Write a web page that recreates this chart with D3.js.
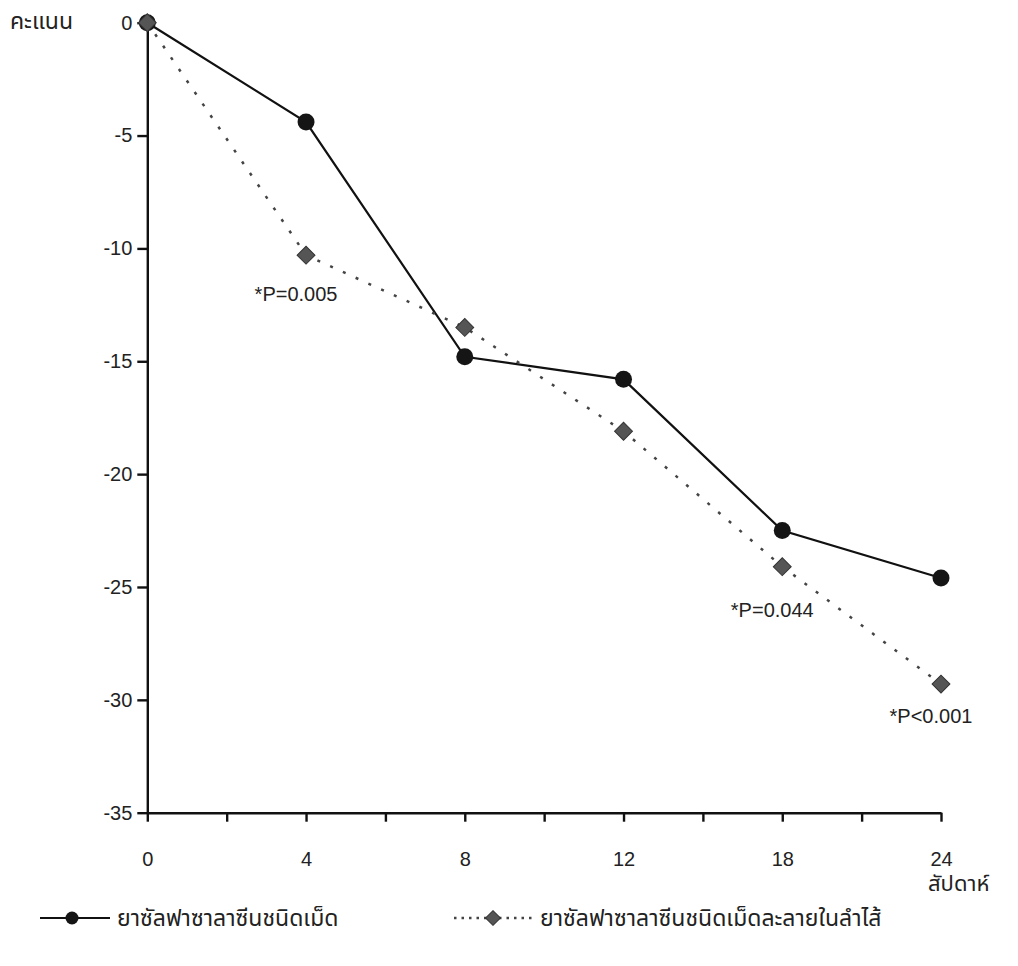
<!DOCTYPE html>
<meta charset="utf-8">
<script src="https://d3js.org/d3.v7.min.js"></script>
<style>
  body { margin: 0; background: #fff; }
  text { font-family: "Liberation Sans", Arial, sans-serif; fill: #222; }
  .thai { font-family: "Noto Sans Thai", "Noto Sans Thai Looped", "Noto Sans", "DejaVu Sans", sans-serif; }
</style>
<div id="chart"></div>
<script>
// weeks (x categories)
var weeks = [0, 4, 8, 12, 18, 24];
// change in score, tablet
var tablet = [0, -4.4, -14.8, -15.8, -22.5, -24.6];
// change in score, enteric coated tablet
var entericTablet = [0, -10.3, -13.5, -18.1, -24.1, -29.3];
var yTicks = [0, -5, -10, -15, -20, -25, -30, -35];
var seriesNames = ["ยาซัลฟาซาลาซีนชนิดเม็ด", "ยาซัลฟาซาลาซีนชนิดเม็ดละลายในลำไส้"];
var noteIndex = [1, 4, 5];
var noteText = ["*P=0.005", "*P=0.044", "*P<0.001"];

var W = 1018, H = 966;
var svg = d3.select("#chart").append("svg")
    .attr("width", W).attr("height", H);
svg.append("rect").attr("width", W).attr("height", H).attr("fill", "#fff");

// scales
var x = d3.scaleLinear().domain([0, weeks.length - 1]).range([147.3, 941]);
var y = d3.scaleLinear().domain([0, -35]).range([22.7, 812.7]);

// y axis
var yAxis = svg.append("g")
    .attr("transform", "translate(" + x(0) + ",0)")
    .call(d3.axisLeft(y).tickValues(yTicks).tickSize(10).tickSizeOuter(0).tickPadding(5)
      .tickFormat(function(d) { return String(d); }));
yAxis.selectAll("text").style("font-size", "20px");

// x axis (ticks between categories too)
var xAxis = svg.append("g")
    .attr("transform", "translate(0," + y(-35) + ")")
    .call(d3.axisBottom(x)
      .tickValues(d3.range(0, weeks.length - 0.99, 0.5))
      .tickFormat(function(d) { return Number.isInteger(d) ? weeks[d] : ""; })
      .tickSize(9).tickSizeOuter(0).tickPadding(30));
xAxis.selectAll("text").style("font-size", "20px");

svg.selectAll(".domain, .tick line").attr("stroke", "#111").attr("stroke-width", 2.4);

// axis titles
svg.append("text").attr("class", "thai")
    .attr("x", 10).attr("y", 29)
    .style("font-size", "23px")
    .text("คะแนน");
svg.append("text").attr("class", "thai")
    .attr("x", 928).attr("y", 891)
    .style("font-size", "22px")
    .text("สัปดาห์");

// lines
var line = d3.line()
    .x(function(d, i) { return x(i); })
    .y(function(d) { return y(d); });

svg.append("path")
    .datum(tablet)
    .attr("d", line)
    .attr("fill", "none")
    .attr("stroke", "#111")
    .attr("stroke-width", 2.2);

svg.append("g").selectAll("circle")
    .data(tablet)
    .enter().append("circle")
      .attr("cx", function(d, i) { return x(i); })
      .attr("cy", function(d) { return y(d); })
      .attr("r", 8.5)
      .attr("fill", "#151515");

svg.append("path")
    .datum(entericTablet)
    .attr("d", line)
    .attr("fill", "none")
    .attr("stroke", "#444")
    .attr("stroke-width", 2.5)
    .attr("stroke-dasharray", "3,11");

var diamond = d3.symbol().type(d3.symbolSquare).size(160);
svg.append("g").selectAll("path")
    .data(entericTablet)
    .enter().append("path")
      .attr("d", diamond)
      .attr("transform", function(d, i) { return "translate(" + x(i) + "," + y(d) + ") rotate(45)"; })
      .attr("fill", "#555")
      .attr("stroke", "#333")
      .attr("stroke-width", 1);

// p-value notes under the diamonds
var noteDy = [46, 50, 39];
svg.append("g").selectAll("text")
    .data(noteIndex)
    .enter().append("text")
      .attr("x", function(d) { return x(d) - 10; })
      .attr("y", function(d, k) { return y(entericTablet[d]) + noteDy[k]; })
      .attr("text-anchor", "middle")
      .style("font-size", "20px")
      .text(function(d, k) { return noteText[k]; });

// legend
var lg = svg.append("g").attr("transform", "translate(0,918)");
lg.append("line").attr("x1", 40).attr("x2", 110).attr("y1", 0).attr("y2", 0)
    .attr("stroke", "#111").attr("stroke-width", 2.2);
lg.append("circle").attr("cx", 72).attr("cy", 0).attr("r", 6.5).attr("fill", "#151515");
lg.append("text").attr("class", "thai").attr("x", 117).attr("y", 8)
    .style("font-size", "23px").text(seriesNames[0]);

lg.append("line").attr("x1", 454).attr("x2", 532).attr("y1", 0).attr("y2", 0)
    .attr("stroke", "#444").attr("stroke-width", 2.5).attr("stroke-dasharray", "2.5,5");
lg.append("path").attr("d", d3.symbol().type(d3.symbolSquare).size(110))
    .attr("transform", "translate(493,0) rotate(45)")
    .attr("fill", "#555").attr("stroke", "#333");
lg.append("text").attr("class", "thai").attr("x", 540).attr("y", 8)
    .style("font-size", "23px").text(seriesNames[1]);
</script>
